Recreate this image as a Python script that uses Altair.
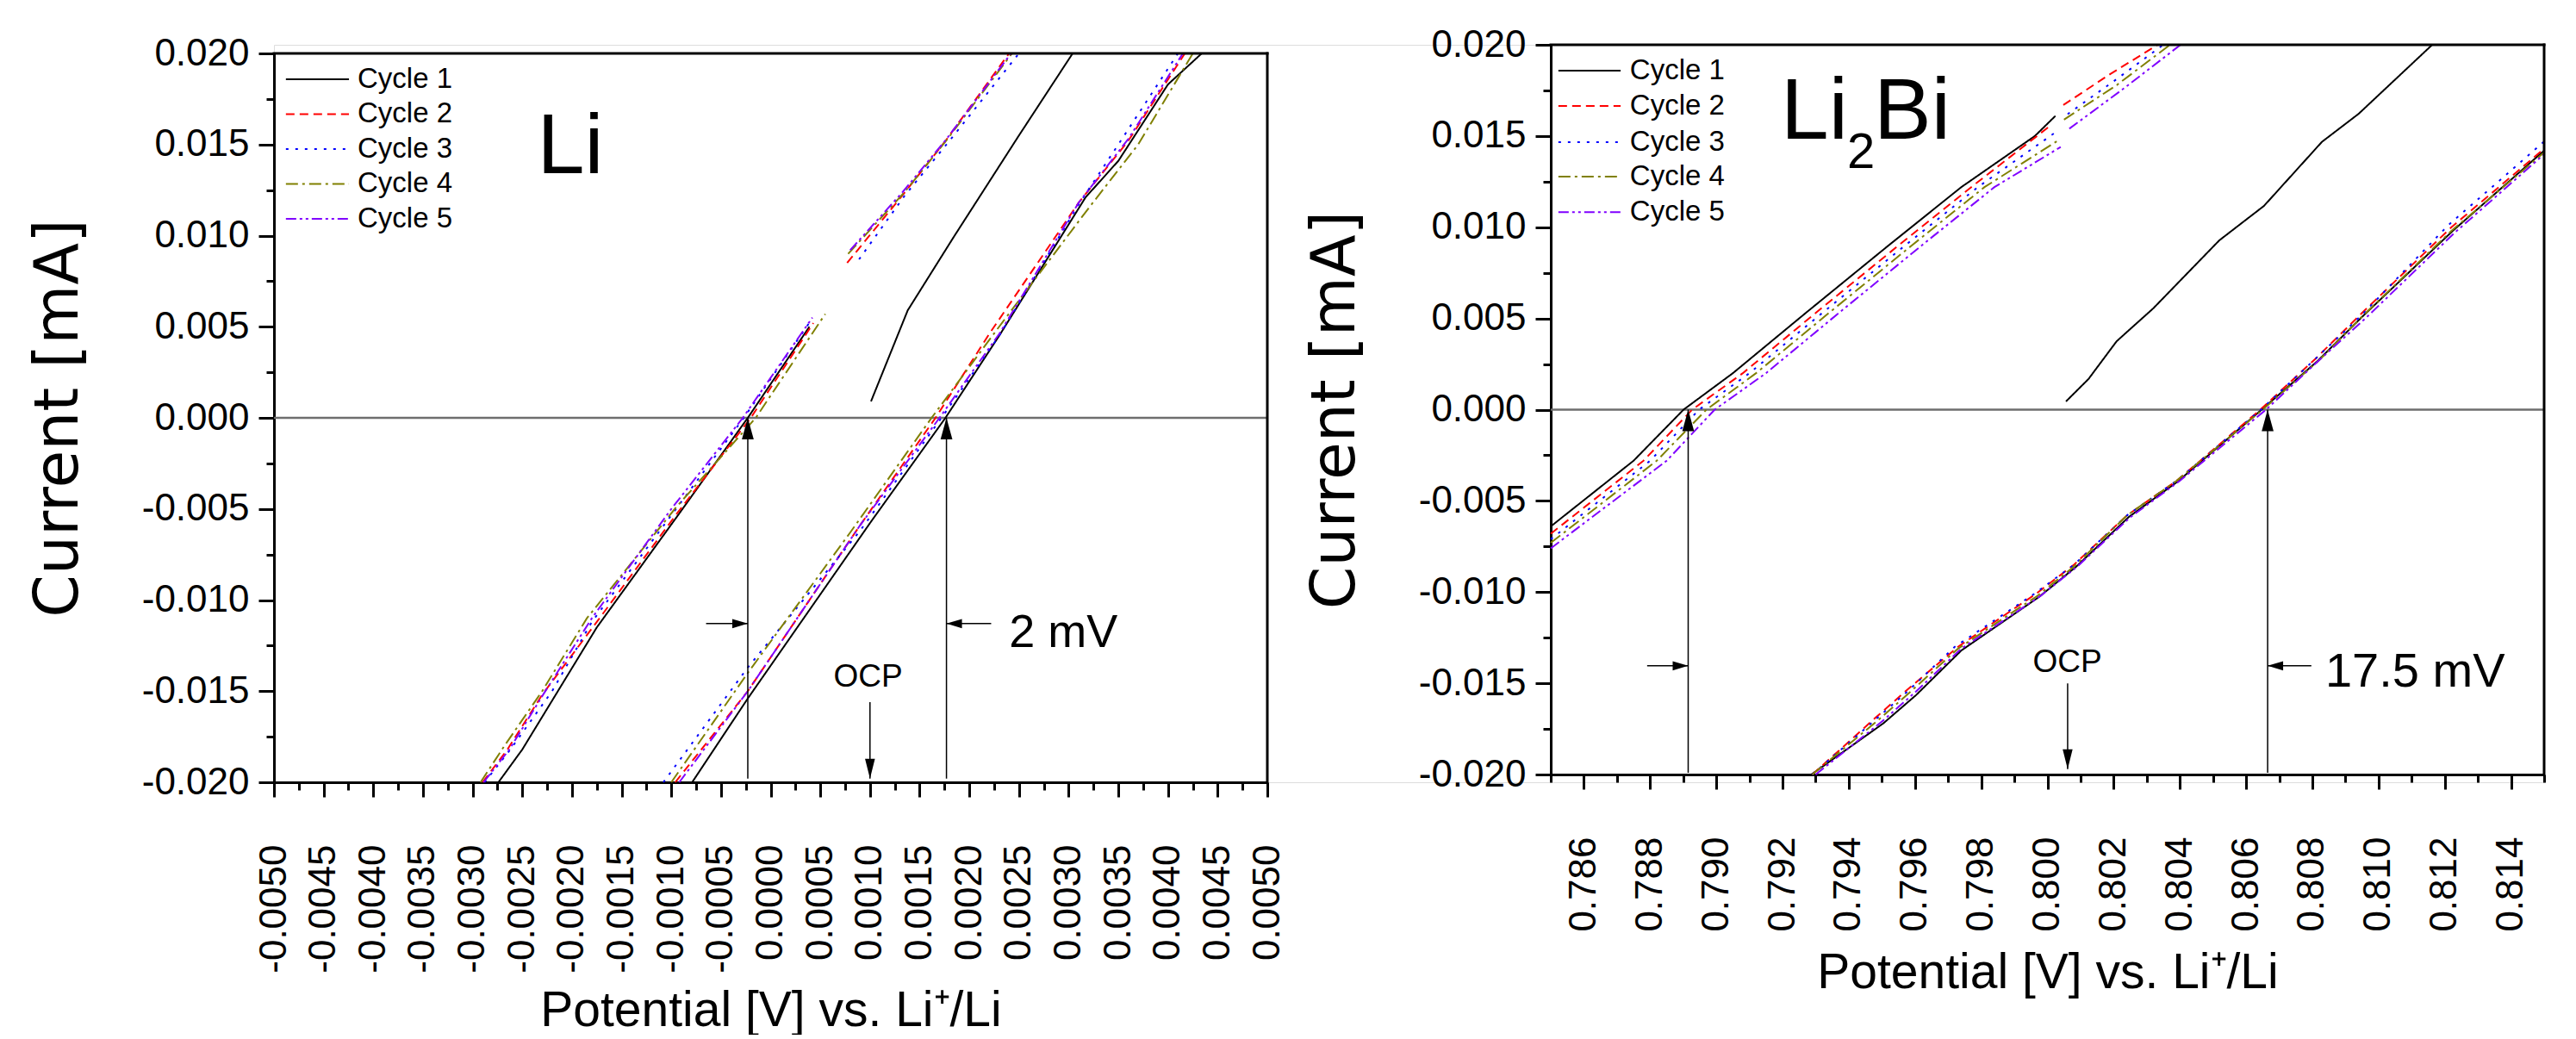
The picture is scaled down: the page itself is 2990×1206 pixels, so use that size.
import altair as alt
import pandas as pd

# ---------------- shared categories / styles ----------------
CYCLES = ["Cycle 1", "Cycle 2", "Cycle 3", "Cycle 4", "Cycle 5"]
COLORS = ["#000000", "#FF0000", "#0000FF", "#808000", "#8000FF"]
DASHES = [[1, 0], [10, 6], [3, 8], [14, 5, 3, 5], [12, 4, 3, 4, 3, 4]]

Y_MAJOR = [-0.02, -0.015, -0.01, -0.005, 0.0, 0.005, 0.01, 0.015, 0.02]
Y_MINOR = [-0.0175, -0.0125, -0.0075, -0.0025, 0.0025, 0.0075, 0.0125, 0.0175]

LI_X_MAJOR = [-0.005, -0.0045, -0.004, -0.0035, -0.003, -0.0025, -0.002, -0.0015, -0.001, -0.0005,
              0.0, 0.0005, 0.001, 0.0015, 0.002, 0.0025, 0.003, 0.0035, 0.004, 0.0045, 0.005]
LI_X_MINOR = [-0.00475, -0.00425, -0.00375, -0.00325, -0.00275, -0.00225, -0.00175, -0.00125, -0.00075, -0.00025,
              0.00025, 0.00075, 0.00125, 0.00175, 0.00225, 0.00275, 0.00325, 0.00375, 0.00425, 0.00475]
BI_X_MAJOR = [0.786, 0.788, 0.790, 0.792, 0.794, 0.796, 0.798, 0.800, 0.802, 0.804, 0.806, 0.808, 0.810, 0.812, 0.814]
BI_X_MINOR = [0.785, 0.787, 0.789, 0.791, 0.793, 0.795, 0.797, 0.799, 0.801, 0.803, 0.805, 0.807, 0.809, 0.811, 0.813, 0.815]

# ---------------- Li panel data ----------------
li_a1_x = [-0.00274, -0.0025, -0.00175, -0.00094, -0.00023, 0.00039]
li_a1_y = [-0.02, -0.0182, -0.0115, -0.0054, 0.0, 0.005]
li_a2_x = [-0.0029, -0.00265, -0.0023, -0.00175, -0.00095, -0.0002, 0.00043]
li_a2_y = [-0.02, -0.0182, -0.0152, -0.0112, -0.0053, 0.0, 0.0052]
li_a3_x = [-0.00288, -0.00262, -0.0022, -0.0018, -0.00098, -0.00027, 0.0004]
li_a3_y = [-0.02, -0.0182, -0.0150, -0.0112, -0.0052, 0.0, 0.0053]
li_a4_x = [-0.00292, -0.00268, -0.0023, -0.00185, -0.00095, -0.00015, 0.00055]
li_a4_y = [-0.02, -0.0180, -0.0150, -0.0110, -0.0049, 0.0, 0.0057]
li_a5_x = [-0.00289, -0.00263, -0.00228, -0.0018, -0.001, -0.00028, 0.00042]
li_a5_y = [-0.02, -0.0182, -0.0151, -0.0110, -0.0050, 0.0, 0.0055]

li_b2_x = [0.00077, 0.00134, 0.00176, 0.0024]
li_b2_y = [0.0085, 0.0123, 0.0152, 0.02]
li_b3_x = [0.00089, 0.00135, 0.0018, 0.0025]
li_b3_y = [0.0087, 0.0122, 0.0152, 0.02]
li_b4_x = [0.00078, 0.00135, 0.00178, 0.00243]
li_b4_y = [0.0090, 0.0124, 0.0153, 0.02]
li_b5_x = [0.0008, 0.00133, 0.00177, 0.00242]
li_b5_y = [0.0092, 0.0124, 0.0153, 0.02]

li_c1_x = [0.00101, 0.00138, 0.00184, 0.0025, 0.00304]
li_c1_y = [0.0009, 0.0059, 0.0099, 0.0155, 0.02]

li_d1_x = [-0.00079, -0.00023, 0.00101, 0.00176, 0.0023, 0.00317, 0.0035, 0.0040, 0.00434]
li_d1_y = [-0.02, -0.0154, -0.0057, 0.0, 0.0045, 0.0121, 0.0141, 0.0183, 0.02]
li_d2_x = [-0.00096, -0.00023, 0.0009, 0.00166, 0.0022, 0.0031, 0.0036, 0.00417]
li_d2_y = [-0.02, -0.0150, -0.0059, 0.0, 0.0046, 0.0118, 0.0152, 0.02]
li_d3_x = [-0.00108, -0.00023, 0.0009, 0.00172, 0.0023, 0.0031, 0.0035, 0.0041]
li_d3_y = [-0.02, -0.0137, -0.0062, 0.0, 0.0045, 0.0117, 0.0150, 0.02]
li_d4_x = [-0.00100, -0.00023, 0.0008, 0.00162, 0.0023, 0.0032, 0.0037, 0.00425]
li_d4_y = [-0.02, -0.0140, -0.0063, 0.0, 0.0050, 0.0115, 0.0150, 0.02]
li_d5_x = [-0.00092, -0.00023, 0.0009, 0.0017, 0.0023, 0.0031, 0.0036, 0.00415]
li_d5_y = [-0.02, -0.0150, -0.0059, 0.0, 0.0046, 0.0118, 0.0153, 0.02]

# ---------------- Li2Bi panel data ----------------
bi_a1_x = [0.785, 0.7875, 0.78901, 0.7905, 0.7927, 0.7952, 0.7974, 0.79962, 0.80024]
bi_a1_y = [-0.0064, -0.0028, 0.0, 0.0020, 0.0053, 0.0090, 0.0122, 0.0150, 0.0161]
bi_a2_x = [0.785, 0.7878, 0.78927, 0.7908, 0.7930, 0.7955, 0.7977, 0.80011]
bi_a2_y = [-0.0068, -0.0028, 0.0, 0.0020, 0.0053, 0.0090, 0.0122, 0.0156]
bi_a3_x = [0.785, 0.788, 0.78948, 0.7910, 0.7932, 0.7957, 0.7979, 0.80024]
bi_a3_y = [-0.0071, -0.0028, 0.0, 0.0020, 0.0053, 0.0090, 0.0122, 0.0152]
bi_a4_x = [0.785, 0.7882, 0.7897, 0.7912, 0.7934, 0.7959, 0.7981, 0.80036]
bi_a4_y = [-0.0073, -0.0028, 0.0, 0.0020, 0.0053, 0.0090, 0.0122, 0.0148]
bi_a5_x = [0.785, 0.7885, 0.78995, 0.7915, 0.7937, 0.7962, 0.7984, 0.8004]
bi_a5_y = [-0.0076, -0.0028, 0.0, 0.0020, 0.0053, 0.0090, 0.0122, 0.0144]

bi_u2_x = [0.80048, 0.8019, 0.80333]
bi_u2_y = [0.0167, 0.0184, 0.02]
bi_u3_x = [0.80061, 0.8020, 0.8035]
bi_u3_y = [0.0162, 0.0180, 0.02]
bi_u4_x = [0.8005, 0.8021, 0.8037]
bi_u4_y = [0.0159, 0.0178, 0.02]
bi_u5_x = [0.80066, 0.8023, 0.80402]
bi_u5_y = [0.0154, 0.0176, 0.02]

bi_b1_x = [0.80056, 0.80124, 0.80209, 0.8032, 0.80519, 0.80654, 0.80829, 0.8094, 0.81162]
bi_b1_y = [0.00045, 0.00168, 0.00375, 0.00556, 0.00928, 0.01117, 0.01468, 0.01622, 0.02]

bi_c1_x = [0.79287, 0.79504, 0.79603, 0.7974, 0.79975, 0.80086, 0.80246, 0.80394, 0.80647, 0.80816, 0.80951, 0.81224, 0.815]
bi_c1_y = [-0.02, -0.0172, -0.01565, -0.0132, -0.01026, -0.00862, -0.00588, -0.00393, 0.0, 0.00267, 0.0051, 0.0098, 0.0142]
bi_c2_x = [0.7929, 0.7948, 0.7958, 0.7973, 0.79965, 0.8008, 0.8024, 0.8039, 0.80643, 0.8081, 0.8095, 0.8122, 0.815]
bi_c2_y = [-0.02, -0.0169, -0.0153, -0.0130, -0.0101, -0.0085, -0.0058, -0.0039, 0.0, 0.0028, 0.0053, 0.0100, 0.0143]
bi_c3_x = [0.7929, 0.7948, 0.7958, 0.7972, 0.7996, 0.8008, 0.8024, 0.8039, 0.80645, 0.8081, 0.8095, 0.8121, 0.815]
bi_c3_y = [-0.02, -0.0170, -0.0154, -0.0130, -0.0101, -0.0085, -0.0058, -0.0039, 0.0, 0.0028, 0.0052, 0.0101, 0.0147]
bi_c4_x = [0.7929, 0.7949, 0.7959, 0.7973, 0.7997, 0.8008, 0.8024, 0.8039, 0.8065, 0.8082, 0.8095, 0.8122, 0.815]
bi_c4_y = [-0.02, -0.0170, -0.0154, -0.0131, -0.0102, -0.0086, -0.0058, -0.0039, 0.0, 0.0027, 0.0051, 0.0098, 0.0141]
bi_c5_x = [0.7930, 0.7950, 0.7960, 0.7974, 0.7998, 0.8009, 0.8025, 0.8040, 0.8066, 0.8082, 0.8096, 0.8123, 0.815]
bi_c5_y = [-0.02, -0.0171, -0.0155, -0.0131, -0.0102, -0.0086, -0.0059, -0.0039, 0.0, 0.0027, 0.0050, 0.0097, 0.0140]

LI_SEGMENTS = [
    ("Cycle 1", "a1", li_a1_x, li_a1_y), ("Cycle 2", "a2", li_a2_x, li_a2_y),
    ("Cycle 3", "a3", li_a3_x, li_a3_y), ("Cycle 4", "a4", li_a4_x, li_a4_y),
    ("Cycle 5", "a5", li_a5_x, li_a5_y),
    ("Cycle 2", "b2", li_b2_x, li_b2_y), ("Cycle 3", "b3", li_b3_x, li_b3_y),
    ("Cycle 4", "b4", li_b4_x, li_b4_y), ("Cycle 5", "b5", li_b5_x, li_b5_y),
    ("Cycle 1", "c1", li_c1_x, li_c1_y),
    ("Cycle 1", "d1", li_d1_x, li_d1_y), ("Cycle 2", "d2", li_d2_x, li_d2_y),
    ("Cycle 3", "d3", li_d3_x, li_d3_y), ("Cycle 4", "d4", li_d4_x, li_d4_y),
    ("Cycle 5", "d5", li_d5_x, li_d5_y),
]
BI_SEGMENTS = [
    ("Cycle 1", "a1", bi_a1_x, bi_a1_y), ("Cycle 2", "a2", bi_a2_x, bi_a2_y),
    ("Cycle 3", "a3", bi_a3_x, bi_a3_y), ("Cycle 4", "a4", bi_a4_x, bi_a4_y),
    ("Cycle 5", "a5", bi_a5_x, bi_a5_y),
    ("Cycle 2", "u2", bi_u2_x, bi_u2_y), ("Cycle 3", "u3", bi_u3_x, bi_u3_y),
    ("Cycle 4", "u4", bi_u4_x, bi_u4_y), ("Cycle 5", "u5", bi_u5_x, bi_u5_y),
    ("Cycle 1", "b1", bi_b1_x, bi_b1_y),
    ("Cycle 1", "c1", bi_c1_x, bi_c1_y), ("Cycle 2", "c2", bi_c2_x, bi_c2_y),
    ("Cycle 3", "c3", bi_c3_x, bi_c3_y), ("Cycle 4", "c4", bi_c4_x, bi_c4_y),
    ("Cycle 5", "c5", bi_c5_x, bi_c5_y),
]


def seg_frame(segments):
    rows = []
    for cyc, seg, xs, ys in segments:
        for i, (xv, yv) in enumerate(zip(xs, ys)):
            rows.append({"cycle": cyc, "seg": seg, "i": i, "x": xv, "y": yv})
    return pd.DataFrame(rows)


FONT = "Liberation Sans"
XTITLE = "Potential [V] vs. Li\u207a/Li"
YTITLE = "Current [mA]"

VIEW_W = 2635   # left plot (1153) + gap (329) + right plot (1153)
VIEW_H = 856


def fmt_expr(f):
    return "(datum.value < -1e-9 ? '-' : '') + format(abs(datum.value), '" + f + "')"


def panel_layers(segments, xdom, xrange, yrange, xmajor, xminor, xfmt, ann, x_off, y_off, xtitle_pad):
    xs = alt.Scale(domain=xdom, range=xrange, nice=False, zero=False)
    ys = alt.Scale(domain=[-0.02, 0.02], range=yrange, nice=False, zero=False)
    cs = alt.Scale(domain=CYCLES, range=COLORS)
    ds = alt.Scale(domain=CYCLES, range=DASHES)

    x_major = alt.Axis(values=xmajor, labelExpr=fmt_expr(xfmt), labelAngle=270, labelFontSize=44,
                       labelFont=FONT, labelPadding=55, labelFlush=False, labelOverlap=False,
                       labelColor="black", tickSize=17, tickWidth=3, tickColor="black",
                       domainWidth=3, domainColor="black", grid=False, orient="bottom", offset=x_off,
                       title=XTITLE, titleFont=FONT, titleFontSize=57, titleFontWeight="normal",
                       titlePadding=xtitle_pad, titleColor="black")
    y_major = alt.Axis(values=Y_MAJOR, labelExpr=fmt_expr(".3f"), labelFontSize=44, labelFont=FONT,
                       labelPadding=11, labelFlush=False, labelOverlap=False, labelColor="black",
                       tickSize=18, tickWidth=3, tickColor="black", domainWidth=3, domainColor="black",
                       grid=False, orient="left", offset=y_off, title=YTITLE, titleFont="DejaVu Sans",
                       titleFontSize=71, titleFontWeight="normal", titlePadding=60, titleColor="black")
    x_minor = alt.Axis(values=xminor, labels=False, tickSize=9, tickWidth=3, tickColor="black",
                       domain=False, grid=False, orient="bottom", offset=x_off, title=None)
    y_minor = alt.Axis(values=Y_MINOR, labels=False, tickSize=9, tickWidth=3, tickColor="black",
                       domain=False, grid=False, orient="left", offset=y_off, title=None)

    X = lambda f: alt.X(f, scale=xs, axis=None)
    Y = lambda f: alt.Y(f, scale=ys, axis=None)

    df = seg_frame(segments)
    lines = alt.Chart(df).mark_line(strokeWidth=2).encode(
        x=alt.X("x:Q", scale=xs, axis=x_major),
        y=alt.Y("y:Q", scale=ys, axis=y_major),
        color=alt.Color("cycle:N", scale=cs, legend=None),
        strokeDash=alt.StrokeDash("cycle:N", scale=ds, legend=None),
        detail="seg:N",
        order="i:Q",
    )
    minor = alt.Chart(pd.DataFrame({"x": [xdom[0]], "y": [0.0]})).mark_point(opacity=0).encode(
        x=alt.X("x:Q", scale=xs, axis=x_minor),
        y=alt.Y("y:Q", scale=ys, axis=y_minor),
    )
    frame = alt.Chart(pd.DataFrame({"x": [xdom[0], xdom[1]], "x2": [xdom[1], xdom[1]],
                                    "y": [0.02, -0.02], "y2": [0.02, 0.02]})).mark_rule(
        color="black", strokeWidth=3, strokeCap="square").encode(x=X("x:Q"), x2="x2:Q", y=Y("y:Q"), y2="y2:Q")

    zero = alt.Chart(pd.DataFrame({"x": [xdom[0]], "x2": [xdom[1]], "y": [0.0]})).mark_rule(
        color="#6E6E6E", strokeWidth=2.5).encode(x=X("x:Q"), x2="x2:Q", y=Y("y:Q"))

    vshaft = alt.Chart(pd.DataFrame(ann["vshaft"])).mark_rule(color="black", strokeWidth=1.5).encode(
        x=X("x:Q"), y=Y("y:Q"), y2="y2:Q")
    hshaft = alt.Chart(pd.DataFrame(ann["hshaft"])).mark_rule(color="black", strokeWidth=1.5).encode(
        x=X("x:Q"), x2="x2:Q", y=Y("y:Q"))
    up = alt.Chart(pd.DataFrame(ann["up"])).mark_point(
        shape="M0,-1L0.55,1L-0.55,1Z", size=625, filled=True, color="black", opacity=1, yOffset=12.5
    ).encode(x=X("x:Q"), y=Y("y:Q"))
    down = alt.Chart(pd.DataFrame(ann["down"])).mark_point(
        shape="M0,1L0.5,-1L-0.5,-1Z", size=529, filled=True, color="black", opacity=1, yOffset=-11.5
    ).encode(x=X("x:Q"), y=Y("y:Q"))
    right = alt.Chart(pd.DataFrame(ann["right"])).mark_point(
        shape="M1,0L-1,-0.6L-1,0.6Z", size=324, filled=True, color="black", opacity=1, xOffset=-9
    ).encode(x=X("x:Q"), y=Y("y:Q"))
    left = alt.Chart(pd.DataFrame(ann["left"])).mark_point(
        shape="M-1,0L1,-0.6L1,0.6Z", size=324, filled=True, color="black", opacity=1, xOffset=9
    ).encode(x=X("x:Q"), y=Y("y:Q"))

    layers = [zero, lines, minor, frame, vshaft, hshaft, up, down, right, left]
    for t in ann["texts"]:
        layers.append(
            alt.Chart(pd.DataFrame({"x": [t["x"]], "y": [t["y"]], "t": [t["text"]]})).mark_text(
                font=FONT, fontSize=t["size"], align=t["align"], baseline="alphabetic",
                dx=t.get("dx", 0), dy=t.get("dy", 0), color="black"
            ).encode(x=X("x:Q"), y=Y("y:Q"), text="t:N")
        )
    leg = pd.DataFrame({"cycle": CYCLES, "x": [ann["leg_x"]] * 5, "x2": [ann["leg_x2"]] * 5,
                        "tx": [ann["leg_tx"]] * 5, "y": ann["leg_y"]})
    layers.append(alt.Chart(leg).mark_rule(strokeWidth=2).encode(
        x=X("x:Q"), x2="x2:Q", y=Y("y:Q"),
        color=alt.Color("cycle:N", scale=cs, legend=None),
        strokeDash=alt.StrokeDash("cycle:N", scale=ds, legend=None)))
    layers.append(alt.Chart(leg).mark_text(font=FONT, fontSize=33, align="left", baseline="middle",
                                           color="black").encode(x=X("tx:Q"), y=Y("y:Q"), text="cycle:N"))
    return layers


LI_ANN = {
    "vshaft": {"x": [-0.00023, 0.00177, 0.001], "y": [-0.0198, -0.0198, -0.0156], "y2": [0.0, 0.0, -0.0198]},
    "hshaft": {"x": [-0.00065, 0.00222], "x2": [-0.00023, 0.00177], "y": [-0.01129, -0.01129]},
    "up": {"x": [-0.00023, 0.00177], "y": [0.0, 0.0]},
    "down": {"x": [0.001], "y": [-0.0198]},
    "right": {"x": [-0.00023], "y": [-0.01129]},
    "left": {"x": [0.00177], "y": [-0.01129]},
    "texts": [
        {"x": -0.00235, "y": 0.01343, "text": "Li", "size": 99, "align": "left"},
        {"x": 0.0024, "y": -0.01258, "text": "2 mV", "size": 54, "align": "left"},
        {"x": 0.00098, "y": -0.01475, "text": "OCP", "size": 37, "align": "center"},
    ],
    "leg_x": -0.00488, "leg_x2": -0.004245, "leg_tx": -0.004159,
    "leg_y": [0.01858, 0.01667, 0.01475, 0.01284, 0.01092],
}
BI_ANN = {
    "vshaft": {"x": [0.78915, 0.80665, 0.80061], "y": [-0.0199, -0.0199, -0.0150], "y2": [0.0, 0.0, -0.0197]},
    "hshaft": {"x": [0.78791, 0.80797], "x2": [0.78915, 0.80665], "y": [-0.01404, -0.01404]},
    "up": {"x": [0.78915, 0.80665], "y": [0.0, 0.0]},
    "down": {"x": [0.80061], "y": [-0.0197]},
    "right": {"x": [0.78915], "y": [-0.01404]},
    "left": {"x": [0.80665], "y": [-0.01404]},
    "texts": [
        {"x": 0.79195, "y": 0.01485, "text": "Li", "size": 100, "align": "left"},
        {"x": 0.79195, "y": 0.01485, "text": "2", "size": 58, "align": "left", "dx": 77, "dy": 34},
        {"x": 0.79195, "y": 0.01485, "text": "Bi", "size": 100, "align": "left", "dx": 108},
        {"x": 0.80839, "y": -0.01518, "text": "17.5 mV", "size": 56, "align": "left"},
        {"x": 0.8006, "y": -0.01438, "text": "OCP", "size": 37, "align": "center"},
    ],
    "leg_x": 0.78523, "leg_x2": 0.78711, "leg_tx": 0.78739,
    "leg_y": [0.01858, 0.01665, 0.01466, 0.01277, 0.01083],
}

li_layers = panel_layers(LI_SEGMENTS, [-0.005, 0.005], [0, 1153], [856, 10],
                         LI_X_MAJOR, LI_X_MINOR, ".4f", LI_ANN, 0, 0, 37)
bi_layers = panel_layers(BI_SEGMENTS, [0.785, 0.815], [1482, 2635], [847, 0],
                         BI_X_MAJOR, BI_X_MINOR, ".3f", BI_ANN, -9, -1482, 20)

chart = alt.layer(*li_layers, *bi_layers).resolve_scale(
    x="independent", y="independent"
).resolve_axis(
    x="independent", y="independent"
).properties(
    width=VIEW_W, height=VIEW_H,
    padding={"left": 24, "top": 22, "right": 5, "bottom": 0}
).configure_view(stroke="transparent").configure(background="white")

chart.save("out.html", embed_options={"renderer": "svg", "actions": False})
